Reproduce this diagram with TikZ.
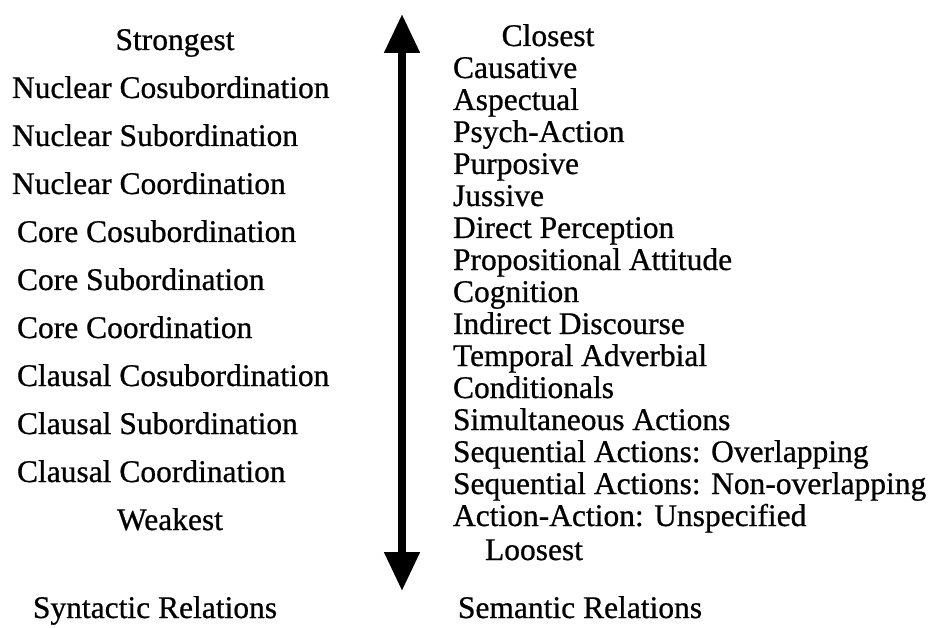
\documentclass[tikz,border=0pt]{standalone}
\usepackage{fontspec}
\setmainfont{Liberation Serif}[FakeBold=0.7]
\usetikzlibrary{arrows.meta}
\begin{document}
\begin{tikzpicture}[x=1pt,y=-1pt,
  lbl/.style={inner sep=0pt,outer sep=0pt,font=\fontsize{31.5}{32}\selectfont},
  lw/.style={lbl,anchor=base west},
  lc/.style={lbl,anchor=base},
  scale arrow/.style={line width=8pt,
    arrows={Triangle[width=34pt,length=39pt]-Triangle[width=34pt,length=39pt]}}]
\useasboundingbox[fill=white] (0,0) rectangle (931,628);
% left column
\node[lc] (strong) at (175,50) {Strongest};
\node[lw] (l1) at (12,98) {Nuclear Cosubordination};
\node[lw] (l2) at (12,146) {Nuclear Subordination};
\node[lw] (l3) at (12,194) {Nuclear Coordination};
\node[lw] (l4) at (17,242) {Core Cosubordination};
\node[lw] (l5) at (17,290) {Core Subordination};
\node[lw] (l6) at (17,338) {Core Coordination};
\node[lw] (l7) at (17,386) {Clausal Cosubordination};
\node[lw] (l8) at (17,434) {Clausal Subordination};
\node[lw] (l9) at (17,482) {Clausal Coordination};
\node[lc] (weak) at (170,530) {Weakest};
\node[lc] (syn) at (155,618) {Syntactic Relations};
% right column
\node[lc] (close) at (548,46) {Closest};
\node[lw] (r1) at (453,78) {Causative};
\node[lw] (r2) at (453,110) {Aspectual};
\node[lw] (r3) at (453,142) {Psych-Action};
\node[lw] (r4) at (453,174) {Purposive};
\node[lw] (r5) at (453,206) {Jussive};
\node[lw] (r6) at (453,238) {Direct Perception};
\node[lw] (r7) at (453,270) {Propositional Attitude};
\node[lw] (r8) at (453,302) {Cognition};
\node[lw] (r9) at (453,334) {Indirect Discourse};
\node[lw] (r10) at (453,366) {Temporal Adverbial};
\node[lw] (r11) at (453,398) {Conditionals};
\node[lw] (r12) at (453,430) {Simultaneous Actions};
\node[lw] (r13) at (453,462) {Sequential Actions: Overlapping};
\node[lw] (r14) at (453,494) {Sequential Actions: Non-overlapping};
\node[lw] (r15) at (453,526) {Action-Action: Unspecified};
\node[lc] (loose) at (534,560) {Loosest};
\node[lc] (sem) at (580,618) {Semantic Relations};
% arrow
\coordinate (atop) at (402,14);
\coordinate (abot) at (402,591);
\draw[scale arrow] (atop) -- (abot);
\end{tikzpicture}
\end{document}
